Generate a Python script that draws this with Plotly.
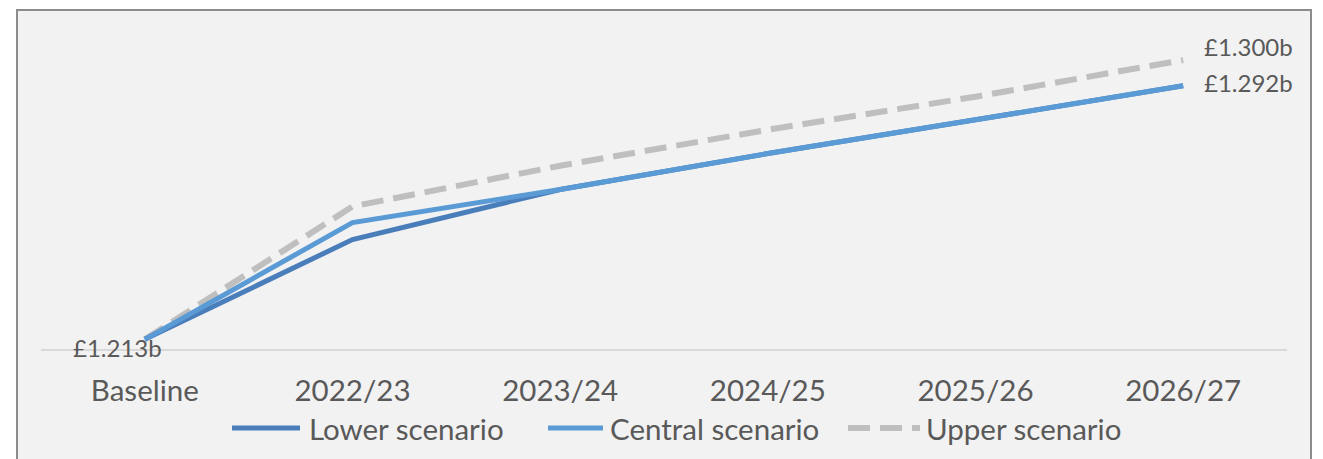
import plotly.graph_objects as go

categories = ["Baseline", "2022/23", "2023/24", "2024/25", "2025/26", "2026/27"]
lower = [1.213, 1.2441, 1.2597, 1.2709, 1.2814, 1.292]
central = [1.213, 1.2494, 1.2597, 1.2709, 1.2814, 1.292]
upper = [1.213, 1.2544, 1.2671, 1.2783, 1.2886, 1.300]
series_names = ["Lower scenario", "Central scenario", "Upper scenario"]

W, H = 1323, 459
FONT = "Lato"
TXT = "#595959"
C_LOWER = "#4A7EBB"
C_CENTRAL = "#5B9BD5"
C_UPPER = "#BFBFBF"
DASH = "22px,10px"
LW = 5

def px(x):
    return x / W

def py(y):
    return (H - y) / H

fig = go.Figure()
fig.add_trace(go.Scatter(x=categories, y=upper, mode="lines", name=series_names[2],
                         line=dict(color=C_UPPER, width=LW + 1, dash=DASH)))
fig.add_trace(go.Scatter(x=categories, y=lower, mode="lines", name=series_names[0],
                         line=dict(color=C_LOWER, width=LW)))
fig.add_trace(go.Scatter(x=categories, y=central, mode="lines", name=series_names[1],
                         line=dict(color=C_CENTRAL, width=LW)))

annotations = [
    dict(x=categories[0], y=central[0], xref="x", yref="y", text=f"£{central[0]:.3f}b",
         showarrow=False, xanchor="right", yanchor="middle", xshift=19, yshift=-8,
         font=dict(family=FONT, size=24, color=TXT)),
    dict(x=categories[-1], y=upper[-1], xref="x", yref="y", text=f"£{upper[-1]:.3f}b",
         showarrow=False, xanchor="left", yanchor="middle", xshift=19, yshift=14,
         font=dict(family=FONT, size=24, color=TXT)),
    dict(x=categories[-1], y=central[-1], xref="x", yref="y", text=f"£{central[-1]:.3f}b",
         showarrow=False, xanchor="left", yanchor="middle", xshift=19, yshift=3,
         font=dict(family=FONT, size=24, color=TXT)),
]

# manual legend
legend_items = [
    (series_names[0], C_LOWER, None, 232, 300, 307),
    (series_names[1], C_CENTRAL, None, 548, 603, 608),
    (series_names[2], C_UPPER, DASH, 848, 920, 924),
]
shapes = [
    dict(type="rect", xref="paper", yref="paper", x0=px(17), x1=px(1311), y0=py(470), y1=py(10),
         line=dict(color="#8C8C8C", width=2), fillcolor="#F2F2F2", layer="below"),
]
LY = 428
for name, col, dash, x0, x1, tx in legend_items:
    shapes.append(dict(type="line", xref="paper", yref="paper", x0=px(x0), x1=px(x1),
                       y0=py(LY), y1=py(LY),
                       line=dict(color=col, width=LW + (1 if dash else 0),
                                 dash=dash if dash else "solid")))
    annotations.append(dict(x=px(tx), y=py(LY), xref="paper", yref="paper", text=name,
                            showarrow=False, xanchor="left", yanchor="middle",
                            font=dict(family=FONT, size=29.5, color=TXT)))

fig.update_layout(
    width=W, height=H,
    margin=dict(l=0, r=0, t=0, b=0),
    paper_bgcolor="white",
    plot_bgcolor="rgba(0,0,0,0)",
    showlegend=False,
    shapes=shapes,
    annotations=annotations,
    xaxis=dict(type="category", range=[-0.5, 5.5], domain=[px(41), px(1287)],
               showgrid=False, zeroline=False, showline=True, linecolor="#D9D9D9", linewidth=1.5,
               ticks="", tickfont=dict(family=FONT, size=29.5, color=TXT), ticklabelstandoff=15),
    yaxis=dict(range=[1.21, 1.31], domain=[py(349), py(28)], showgrid=False, zeroline=False,
               showticklabels=False, showline=False),
)

fig.write_html("out.html")
